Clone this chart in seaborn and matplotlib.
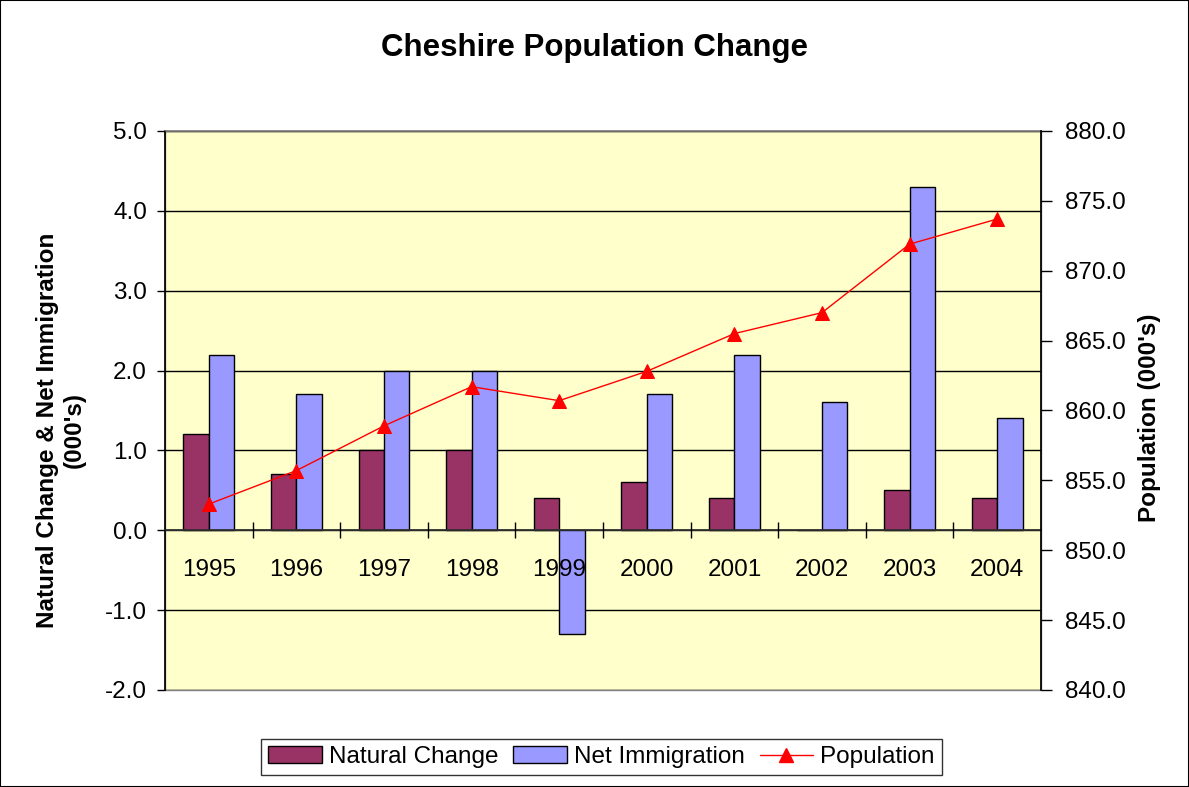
import matplotlib
matplotlib.use("Agg")
import matplotlib.pyplot as plt
import matplotlib.patches as mpatches
import matplotlib.lines as mlines
from matplotlib.ticker import FormatStrFormatter
import numpy as np
import pandas as pd
import seaborn as sns

# Data (000's)
years = ['1995', '1996', '1997', '1998', '1999', '2000', '2001', '2002', '2003', '2004']
natural_change = [1.2, 0.7, 1.0, 1.0, 0.4, 0.6, 0.4, 0.0, 0.5, 0.4]
net_immigration = [2.2, 1.7, 2.0, 2.0, -1.3, 1.7, 2.2, 1.6, 4.3, 1.4]
population = [853.3, 855.7, 858.9, 861.7, 860.7, 862.8, 865.5, 867.0, 871.9, 873.7]

series_names = ['Natural Change', 'Net Immigration', 'Population']
bar_colors = ['#993366', '#9999FF']
line_color = '#FF0000'
left_ticks = np.arange(-2, 5.1, 1)
right_ticks = np.arange(840, 880.1, 5)

sns.set_theme(style='white')
plt.rcParams['font.family'] = ['Liberation Sans', 'DejaVu Sans']
plt.rcParams['text.color'] = 'black'
plt.rcParams['axes.labelcolor'] = 'black'
plt.rcParams['xtick.color'] = 'black'
plt.rcParams['ytick.color'] = 'black'

# long format for seaborn
df = pd.DataFrame({
    'year': years * 2,
    'value': natural_change + net_immigration,
    'series': [series_names[0]] * len(years) + [series_names[1]] * len(years),
})

fig = plt.figure(figsize=(11.89, 7.87), dpi=100)
ax = fig.add_axes([0.1388, 0.1233, 0.7367, 0.7103])
ax.set_facecolor('#FFFFCC')

# gridlines behind the bars, axis (and year labels) on top
for t in left_ticks:
    ax.axhline(t, color='black', linewidth=1, zorder=0.6)

sns.barplot(data=df, x='year', y='value', hue='series', palette=bar_colors,
            saturation=1, width=0.58, edgecolor='black', linewidth=1,
            legend=False, ax=ax)

# left axis
ax.set_axisbelow(False)
ax.set_xlim(-0.5, len(years) - 0.5)
ax.set_ylim(-2, 5)
ax.set_yticks(left_ticks)
ax.yaxis.set_major_formatter(FormatStrFormatter('%.1f'))
ax.grid(False)
ax.tick_params(axis='y', direction='out', length=6, width=1, pad=7,
               labelsize=17.5, left=True)
ax.set_xlabel('')
ax.set_ylabel("Natural Change & Net Immigration\n(000's)", fontsize=17.5,
              fontweight='bold', linespacing=1.25)
ax.yaxis.set_label_coords(-0.090, 0.465)

# category axis sits on zero
ax.spines['bottom'].set_position(('data', 0))
ax.spines['bottom'].set_color('#303030')
ax.spines['left'].set_color('black')
ax.spines['top'].set_color('#808080')
ax.spines['right'].set_visible(False)
ax.tick_params(axis='x', which='major', length=0, pad=21, labelsize=17.5)
ax.set_xticks(np.arange(0.5, len(years) - 1, 1), minor=True)
ax.tick_params(axis='x', which='minor', direction='inout', length=11,
               width=1, bottom=True)
# plot area border (bottom edge at -2)
ax.add_patch(mpatches.Rectangle((0, 0), 1, 1, transform=ax.transAxes, fill=False,
                                edgecolor='#808080', linewidth=1, clip_on=False, zorder=0.5))

# right axis with population line
ax2 = ax.twinx()
sns.lineplot(x=np.arange(len(years)), y=population, ax=ax2, color=line_color,
             linewidth=1, marker='^', markersize=10, markeredgecolor=line_color)
ax2.set_ylim(840, 880)
ax2.set_yticks(right_ticks)
ax2.yaxis.set_major_formatter(FormatStrFormatter('%.1f'))
ax2.tick_params(axis='y', direction='out', length=8, width=1, pad=9,
                labelsize=17.5, right=True)
for side in ['left', 'top', 'bottom']:
    ax2.spines[side].set_visible(False)
ax2.spines['right'].set_color('black')
ax2.set_ylabel("Population (000's)", fontsize=17.5, fontweight='bold')
ax2.yaxis.set_label_coords(1.111, 0.487)

fig.text(0.5, 1 - 48 / 787, 'Cheshire Population Change', ha='center', va='center',
         fontsize=22.5, fontweight='bold')

handles = [
    mpatches.Patch(facecolor=bar_colors[0], edgecolor='black', label=series_names[0]),
    mpatches.Patch(facecolor=bar_colors[1], edgecolor='black', label=series_names[1]),
    mlines.Line2D([], [], color=line_color, marker='^', markersize=10, linewidth=1,
                  label=series_names[2]),
]
leg = fig.legend(handles=handles, loc='center', bbox_to_anchor=(0.506, 0.038), ncol=3,
                 frameon=True, fancybox=False, edgecolor='black', fontsize=17.5,
                 handlelength=2.2, handleheight=0.7, columnspacing=0.6,
                 handletextpad=0.3, borderpad=0.3)
leg.get_frame().set_linewidth(1)

fig.patches.append(mpatches.Rectangle((0, 0), 1, 1, transform=fig.transFigure, fill=False,
                                      edgecolor='black', linewidth=1.5))

fig.savefig('out.png', dpi=100)
